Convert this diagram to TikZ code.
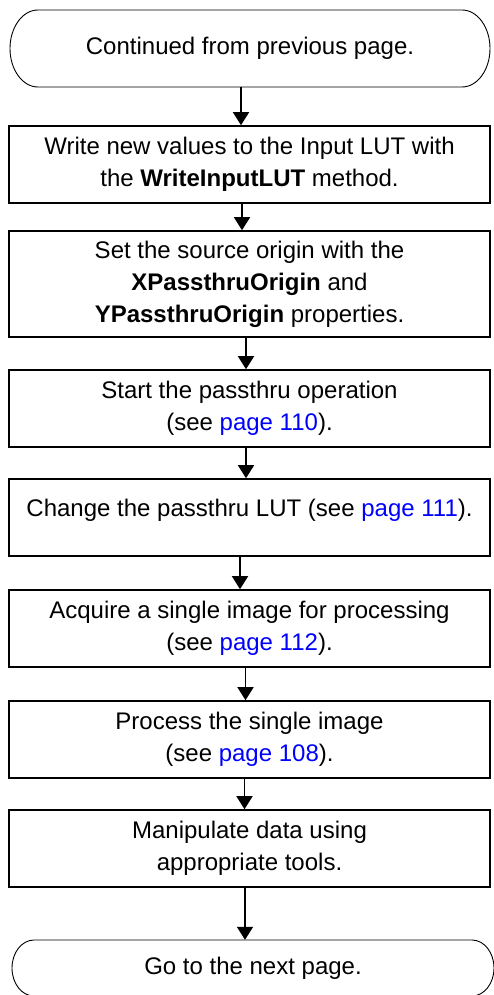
\documentclass[tikz,border=0pt]{standalone}
\usepackage{fontspec}
\setmainfont{Liberation Sans}
\usetikzlibrary{arrows.meta}
\definecolor{linkblue}{RGB}{0,0,255}
\newcommand{\lnk}[1]{\textcolor{linkblue}{#1}}
\begin{document}
\begin{tikzpicture}[x=1pt,y=1pt,
  stepbox/.style={draw, line width=1.6pt, minimum width=481pt, inner sep=0pt, align=center, font=\fontsize{24}{32}\selectfont},
  termnode/.style={minimum width=#1, inner sep=0pt, align=center, font=\fontsize{24}{32}\selectfont},
  termline/.style={line width=0.9pt},
  flow/.style={line width=1.6pt, -{Triangle[width=16pt,length=13pt]}},
]
\useasboundingbox (0,0) rectangle (494,-995);
\clip (0,0) rectangle (494,-995);

% top terminator
\node[termnode=480pt, minimum height=77pt] (t1) at (250,-48.5) {Continued from previous page.};
\draw[termline] (38,-10) -- (462,-10) arc[start angle=90,end angle=-90,x radius=28pt,y radius=38.5pt]
  -- (38,-87) arc[start angle=270,end angle=90,x radius=28pt,y radius=38.5pt] -- cycle;

\node[stepbox, minimum height=77pt] (b1) at (249.5,-164.5)
  {Write new values to the Input LUT with\\the \textbf{WriteInputLUT} method.};
\node[stepbox, minimum height=106pt] (b2) at (249.5,-284)
  {Set the source origin with the\\\textbf{XPassthruOrigin} and\\\textbf{YPassthruOrigin} properties.};
\node[stepbox, minimum height=77pt] (b3) at (249.5,-408.5)
  {Start the passthru operation\\(see \lnk{page 110}).};
\node[stepbox, minimum height=77pt] (b4) at (249.5,-517.5)
  {Change the passthru LUT (see \lnk{page 111}).\rule[-19pt]{0pt}{0pt}};
\node[stepbox, minimum height=77pt] (b5) at (249.5,-628.5)
  {Acquire a single image for processing\\(see \lnk{page 112}).};
\node[stepbox, minimum height=77pt] (b6) at (249.5,-739.5)
  {Process the single image\\(see \lnk{page 108}).};
\node[stepbox, minimum height=77pt] (b7) at (249.5,-848.5)
  {Manipulate data using\\appropriate tools.};

% bottom terminator
\node[termnode=482pt, minimum height=56pt] (t2) at (253,-968) {Go to the next page.};
\draw[termline] (34,-940) -- (472,-940) arc[start angle=90,end angle=-90,x radius=22pt,y radius=28pt]
  -- (34,-996) arc[start angle=270,end angle=90,x radius=22pt,y radius=28pt] -- cycle;

% connectors
\draw[flow] ([xshift=-9pt]t1.south) -- ([xshift=-8.5pt]b1.north);
\draw[flow] ([xshift=-7.5pt]b1.south) -- ([xshift=-7.5pt]b2.north);
\draw[flow] ([xshift=-3.5pt]b2.south) -- ([xshift=-3.5pt]b3.north);
\draw[flow] ([xshift=-3.5pt]b3.south) -- ([xshift=-3.5pt]b4.north);
\draw[flow] ([xshift=-9.5pt]b4.south) -- ([xshift=-9.5pt]b5.north);
\draw[flow] ([xshift=-4pt]b5.south) -- ([xshift=-4pt]b6.north);
\draw[flow] ([xshift=-5pt]b6.south) -- ([xshift=-5pt]b7.north);
\draw[flow] ([xshift=-4.5pt]b7.south) -- ([xshift=-8pt]t2.north);
\end{tikzpicture}
\end{document}
